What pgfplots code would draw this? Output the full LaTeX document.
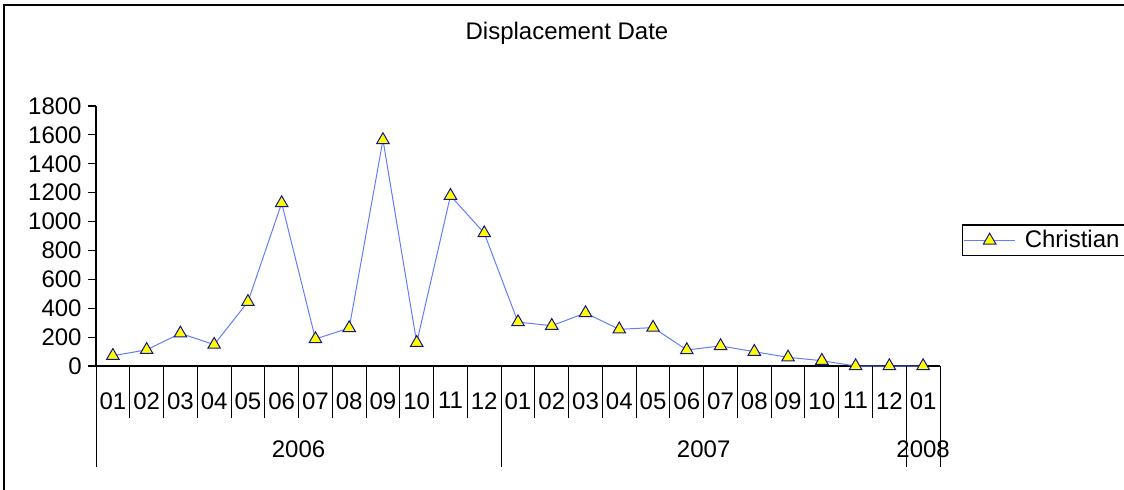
\documentclass[border=0pt]{standalone}
\usepackage{fontspec}
\setmainfont{Liberation Sans}
\usepackage{pgfplots}
\pgfplotsset{compat=1.18}
\definecolor{linec}{RGB}{100,125,255}
\definecolor{markb}{RGB}{20,20,140}
\definecolor{markf}{RGB}{255,255,0}
\begin{document}
\fontsize{12pt}{14pt}\selectfont
\begin{tikzpicture}
\draw[line width=0.8pt] (2pt,-10pt) -- (2pt,242pt) -- (600pt,242pt);
\node[font=\fontsize{12pt}{14pt}\selectfont] at (283.5pt,228pt) {Displacement Date};
\begin{axis}[
  at={(48pt,61.5pt)}, anchor=south west,
  scale only axis, width=422pt, height=130pt,
  xmin=-0.5, xmax=24.5, ymin=0, ymax=1800,
  axis x line=bottom, axis y line=left,
  axis line style={-, black, line width=0.6pt},
  clip=false,
  tick align=outside, major tick length=4pt,
  ytick={0,200,...,1800},
  ytick style={black, line width=0.6pt},
  xtick={0,...,24},
  xticklabels={01,02,03,04,05,06,07,08,09,10,11,12,01,02,03,04,05,06,07,08,09,10,11,12,01},
  xtick style={draw=none},
  xticklabel style={yshift=-5pt},
  yticklabel style={xshift=1pt},
  tick label style={font=\fontsize{12pt}{14pt}\selectfont},
  /pgf/number format/assume math mode=true,
  scaled y ticks=false,
  /pgf/number format/1000 sep={},
  legend style={at={(axis description cs:1.026,0.545)}, anchor=north west,
    draw=black, line width=0.6pt, font=\fontsize{12pt}{14pt}\selectfont,
    inner sep=0.5pt, row sep=0pt, nodes={inner sep=2pt}},
  legend image code/.code={\draw[mark repeat=2,mark phase=2] plot coordinates {(0.08cm,0cm)(0.53cm,0cm)(0.98cm,0cm)};},
]
\addplot[color=linec, line width=0.5pt, mark=triangle*, mark size=3.6pt,
  mark options={fill=markf, draw=markb, line width=0.5pt}]
coordinates {
(0,71)(1,112)(2,226)(3,148)(4,444)(5,1128)(6,187)(7,263)(8,1565)(9,161)
(10,1179)(11,920)(12,304)(13,279)(14,367)(15,254)(16,266)(17,111)(18,139)
(19,99)(20,60)(21,37)(22,0)(23,0)(24,0)};
\addlegendentry{\hspace*{2.5pt}Christian\hspace*{12pt}}
\pgfplotsinvokeforeach{-0.5,0.5,...,24.5}{
  \draw[black, line width=0.5pt] (axis cs:#1,0) -- ++(0pt,-26pt);
}
\pgfplotsinvokeforeach{-0.5,11.5,23.5,24.5}{
  \draw[black, line width=0.5pt] (axis cs:#1,0) -- ++(0pt,-50.5pt);
}
\node[font=\fontsize{12pt}{14pt}\selectfont] at ([yshift=-41.5pt]axis cs:5.5,0) {2006};
\node[font=\fontsize{12pt}{14pt}\selectfont] at ([yshift=-41.5pt]axis cs:17.5,0) {2007};
\node[font=\fontsize{12pt}{14pt}\selectfont] at ([yshift=-41.5pt]axis cs:24,0) {2008};
\end{axis}
\pgfresetboundingbox
\useasboundingbox (0,0) rectangle (562pt,244.5pt);
\end{tikzpicture}
\end{document}
